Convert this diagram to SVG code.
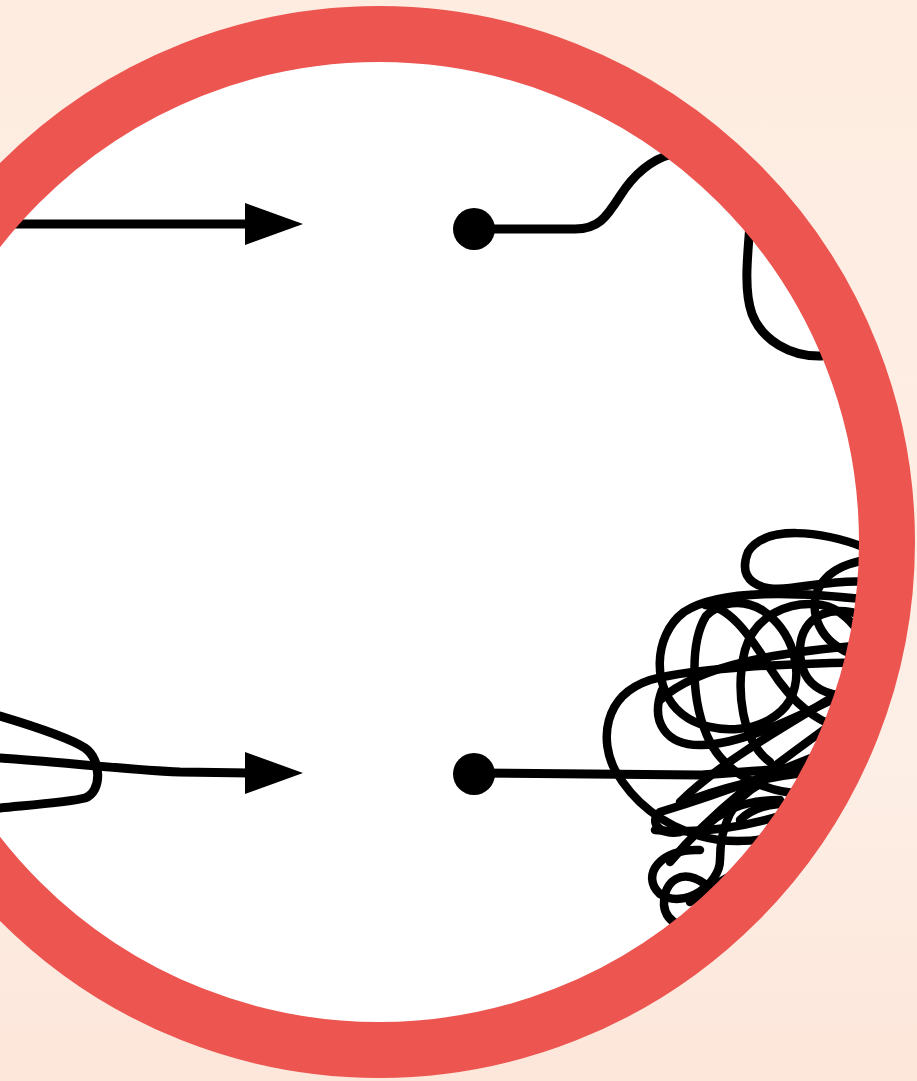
<svg xmlns="http://www.w3.org/2000/svg" width="917" height="1081" viewBox="0 0 917 1081">
  <defs>
    <linearGradient id="bg" x1="0" y1="0" x2="0" y2="1">
      <stop offset="0" stop-color="#feece0"/>
      <stop offset="0.7" stop-color="#fdefe6"/>
      <stop offset="1" stop-color="#fde6da"/>
    </linearGradient>
    <style>
      .ln { fill: none; stroke: #000; stroke-width: 9; stroke-linecap: round; stroke-linejoin: round; }
      .sc { fill: none; stroke: #000; stroke-width: 8.5; stroke-linecap: round; stroke-linejoin: round; }
      .head { fill: #000; }
      .dot { fill: #000; }
    </style>
  </defs>
  <rect width="917" height="1081" fill="url(#bg)"/>
  <g id="frame-fill">
    <circle cx="379" cy="542" r="482" fill="#ffffff"/>
  </g>
  <g id="connectors">
    <path class="ln" d="M 0 224 L 250 224" stroke-linecap="butt" stroke-width="10"/>
    <polygon class="head" points="245,203 303,224 245,245"/>
    <path class="ln" d="M 0 716 C 30 725 70 738 85 748 C 102 760 102 792 85 798 C 70 802 30 805 0 808"/>
    <path class="ln" d="M 0 758 C 60 762 130 770 180 772 L 250 773"/>
    <polygon class="head" points="245,752 303,773 245,794"/>
    <path class="ln" d="M 474 229 L 575 229 C 598 229 606 218 620 196 C 634 174 650 160 672 154"/>
    <path class="ln" d="M 750 225 C 747 260 744 292 752 314 C 762 340 790 357 822 356"/>
    <path class="ln" d="M 474 773 L 700 775 C 740 772 790 768 845 766"/>
  </g>
  <g id="scribble">
    <path class="sc" d="M 866 548 C 820 530 765 525 748 552 C 737 580 758 592 790 588 C 820 584 845 580 870 582"/>
    <path class="sc" d="M 866 560 C 830 566 812 585 815 612 C 820 642 850 660 874 655"/>
    <path class="sc" d="M 870 600 C 800 592 720 588 684 612 C 652 636 652 690 682 714 C 712 738 770 734 790 700 C 805 670 792 630 762 610 C 742 598 720 602 706 616 C 690 642 690 702 710 742 C 730 780 780 800 830 792" stroke-width="9.5"/>
    <path class="sc" d="M 872 620 C 835 600 800 615 800 650 C 800 690 832 702 872 692"/>
    <path class="sc" d="M 872 662 C 800 664 700 666 650 680 C 602 696 600 742 615 770 C 632 800 660 824 700 836 C 735 846 770 840 800 830"/>
    <path class="sc" d="M 660 700 C 700 664 780 652 866 645"/>
    <path class="sc" d="M 662 690 C 650 722 666 746 702 745 C 742 744 792 720 860 686"/>
    <path class="sc" d="M 860 730 C 820 730 790 700 770 668 C 748 632 728 606 705 605"/>
    <path class="sc" d="M 770 762 C 742 742 735 690 745 650 C 755 615 790 600 822 605 C 850 610 862 640 874 650"/>
    <path class="sc" d="M 680 832 C 660 836 648 822 660 812 C 700 800 760 780 850 742"/>
    <path class="sc" d="M 700 850 C 660 848 640 876 660 894 C 684 910 720 884 720 860 C 720 830 730 800 760 784"/>
    <path class="sc" d="M 705 884 C 682 868 664 880 664 905 C 666 925 690 932 705 924"/>
    <path class="sc" d="M 655 830 C 715 836 770 822 820 802"/>
    <path class="sc" d="M 690 800 C 740 782 790 772 840 770"/>
    <path class="sc" d="M 680 802 C 712 770 760 740 862 680"/>
    <path class="sc" d="M 670 862 C 720 802 780 762 862 702"/>
    <path class="sc" d="M 690 902 C 715 884 745 864 780 858"/>
    <path class="sc" d="M 740 820 C 760 800 800 800 812 812 C 818 826 800 842 780 846"/>
    <path class="sc" d="M 700 832 C 720 810 745 800 780 800"/>
  </g>
  <g id="nodes">
    <g id="node-top"><circle class="dot" cx="474" cy="229" r="21"/></g>
    <g id="node-bottom"><circle class="dot" cx="474" cy="774" r="21"/></g>
  </g>
  <g id="ring">
    <circle cx="379" cy="542" r="508" fill="none" stroke="#ec5550" stroke-width="56"/>
  </g>
</svg>
